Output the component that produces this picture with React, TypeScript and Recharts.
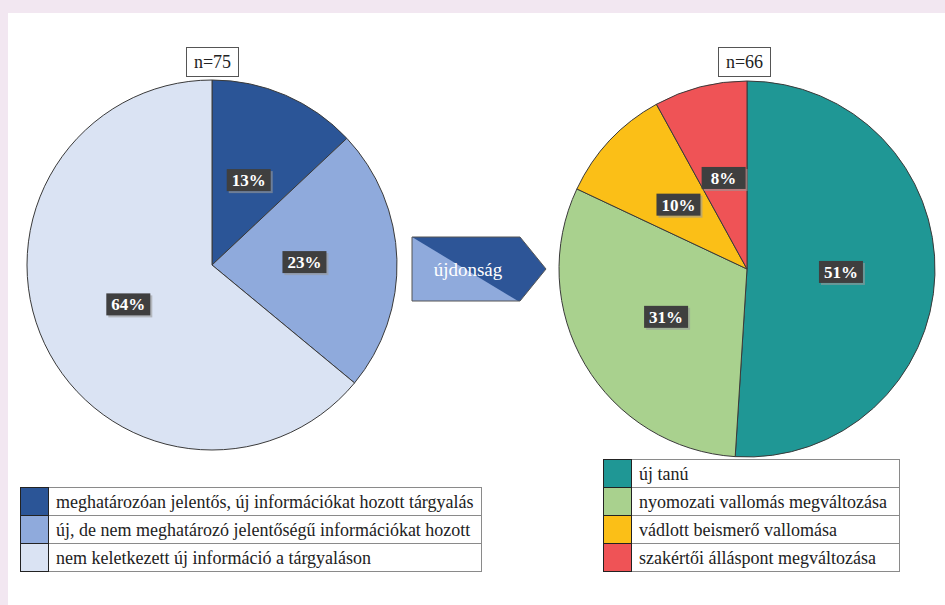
import React from "react";
import { Cell, Pie, PieChart } from "recharts";

const leftCategories = [
  "meghatározóan jelentős, új információkat hozott tárgyalás",
  "új, de nem meghatározó jelentőségű információkat hozott",
  "nem keletkezett új információ a tárgyaláson",
];
const leftValues = [13, 23, 64];
const leftColors = ["#2b5597", "#8faadc", "#dae3f3"];
const leftTotal = "n=75";

const rightCategories = [
  "új tanú",
  "nyomozati vallomás megváltozása",
  "vádlott beismerő vallomása",
  "szakértői álláspont megváltozása",
];
const rightValues = [51, 31, 10, 8];
const rightColors = ["#1f9795", "#a9d18e", "#fbbf17", "#ef5356"];
const rightTotal = "n=66";

const arrowLabel = "újdonság";

const FONT = "Liberation Serif, DejaVu Serif, serif";
const RAD = Math.PI / 180;

const leftData = leftCategories.map((name, i) => ({ name, value: leftValues[i] }));
const rightData = rightCategories.map((name, i) => ({ name, value: rightValues[i] }));

const renderLabel = (props: any) => {
  const { cx, cy, midAngle, outerRadius, value } = props;
  const r = outerRadius * 0.5;
  const x = cx + r * Math.cos(-midAngle * RAD);
  const y = cy + r * Math.sin(-midAngle * RAD);
  return (
    <g>
      <rect x={x - 20} y={y - 9} width={44} height={22} fill="#9a9a9a" opacity={0.6} />
      <rect x={x - 22} y={y - 11} width={44} height={22} fill="#3f3f3f" />
      <text
        x={x}
        y={y + 6}
        textAnchor="middle"
        fill="#ffffff"
        style={{ fontFamily: FONT, fontWeight: "bold", fontSize: 17 }}
      >
        {`${value}%`}
      </text>
    </g>
  );
};

function TotalBox({ left, top, text }: { left: number; top: number; text: string }) {
  return (
    <div
      style={{
        position: "absolute",
        left,
        top,
        width: 51,
        height: 28,
        border: "1px solid #555",
        background: "#fff",
        fontFamily: FONT,
        fontSize: 18,
        lineHeight: "28px",
        textAlign: "center",
        color: "#222",
      }}
    >
      {text}
    </div>
  );
}

function LegendTable({
  left,
  top,
  width,
  items,
  colors,
}: {
  left: number;
  top: number;
  width: number;
  items: string[];
  colors: string[];
}) {
  return (
    <table
      style={{
        position: "absolute",
        left,
        top,
        width,
        borderCollapse: "collapse",
        fontFamily: FONT,
        fontSize: 18,
        color: "#222",
        background: "#fff",
      }}
    >
      <tbody>
        {items.map((t, i) => (
          <tr key={t} style={{ height: 28 }}>
            <td
              style={{
                width: 27,
                padding: 0,
                background: colors[i],
                border: "1.5px solid #222",
              }}
            />
            <td
              style={{
                padding: "0 0 0 7px",
                border: "1px solid #8a8a8a",
                whiteSpace: "nowrap",
                lineHeight: "26px",
              }}
            >
              {t}
            </td>
          </tr>
        ))}
      </tbody>
    </table>
  );
}

export default function App() {
  return (
    <div
      style={{
        position: "absolute",
        left: 0,
        top: 0,
        width: 945,
        height: 605,
        background: "#f2e7f1",
        overflow: "hidden",
      }}
    >
      <div
        style={{
          position: "absolute",
          left: 8,
          top: 13,
          width: 937,
          height: 592,
          background: "#ffffff",
        }}
      />
      <div style={{ position: "absolute", left: 0, top: 0 }}>
        <PieChart width={945} height={605} margin={{ top: 0, right: 0, bottom: 0, left: 0 }}>
          <Pie
            data={leftData}
            dataKey="value"
            cx={212}
            cy={265}
            outerRadius={185}
            startAngle={90}
            endAngle={-270}
            stroke="#3a3a3a"
            strokeWidth={1}
            labelLine={false}
            label={renderLabel}
            isAnimationActive={false}
          >
            {leftData.map((d, i) => (
              <Cell key={d.name} fill={leftColors[i]} />
            ))}
          </Pie>
          <Pie
            data={rightData}
            dataKey="value"
            cx={747}
            cy={269}
            outerRadius={188}
            startAngle={90}
            endAngle={-270}
            stroke="#3a3a3a"
            strokeWidth={1}
            labelLine={false}
            label={renderLabel}
            isAnimationActive={false}
          >
            {rightData.map((d, i) => (
              <Cell key={d.name} fill={rightColors[i]} />
            ))}
          </Pie>
        </PieChart>
      </div>
      <TotalBox left={186} top={47} text={leftTotal} />
      <TotalBox left={718} top={47} text={rightTotal} />
      <svg
        width={945}
        height={605}
        style={{ position: "absolute", left: 0, top: 0, pointerEvents: "none" }}
      >
        <polygon points="412,237 520,237 546,269 520,301 412,301" fill="#2d5597" />
        <polygon points="412,237 518,301 412,301" fill="#8faadc" />
        <polygon
          points="412,237 520,237 546,269 520,301 412,301"
          fill="none"
          stroke="#555"
          strokeWidth={1}
        />
        <text
          x={468}
          y={276}
          textAnchor="middle"
          fill="#ffffff"
          style={{ fontFamily: FONT, fontSize: 19 }}
        >
          {arrowLabel}
        </text>
      </svg>
      <LegendTable left={20} top={487} width={462} items={leftCategories} colors={leftColors} />
      <LegendTable left={603} top={459} width={297} items={rightCategories} colors={rightColors} />
    </div>
  );
}
